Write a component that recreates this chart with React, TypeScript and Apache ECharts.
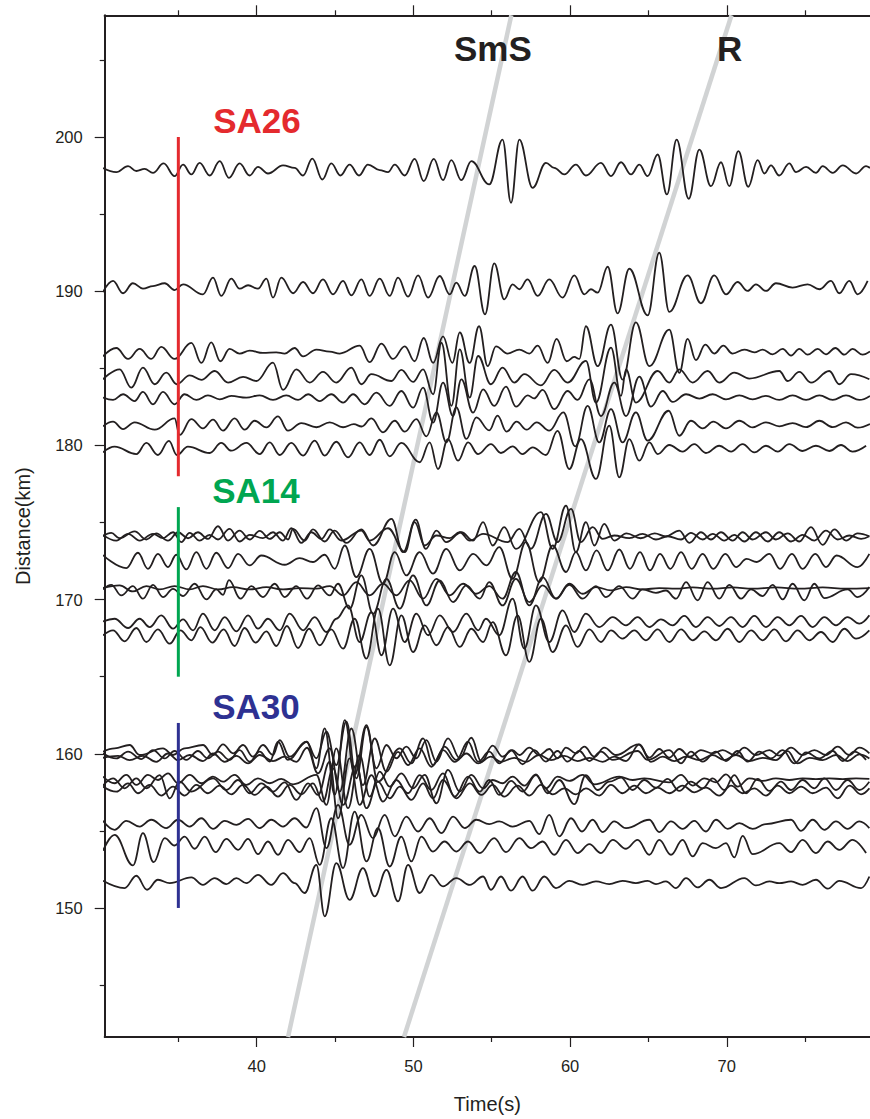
import React, { useEffect, useRef } from "react";
import * as echarts from "echarts";

const FONT = '"Liberation Sans", Arial, Helvetica, sans-serif';
const INK = "#231f20";

const X_MIN = 30.3;
const X_MAX = 79.14;
const Y_MIN = 141.63;
const Y_MAX = 207.9;
const xMajorTicks = [40, 50, 60, 70];
const xMinorTicks = [35, 45, 55, 65, 75];
const yMajorTicks = [150, 160, 170, 180, 190, 200];
const yMinorTicks = [145, 155, 165, 175, 185, 195, 205];

const stationNames = ["SA26", "SA14", "SA30"];
const stationColors = ["#e42a2e", "#00a651", "#2e3192"];
const stationSpans = [[178, 200], [165, 176], [150, 162]];
const stationMarkTime = 35;
const stationLabelAnchor = [[37.22, 201.09], [37.16, 177.05], [37.16, 163.04]];

const phaseNames = ["SmS", "R"];
const phaseLines = [
  [[42.0, 141.63], [56.25, 207.9]],
  [[49.4, 141.63], [70.3, 207.9]],
];
const phaseLabelAnchor = [[52.59, 205.76], [69.38, 205.76]];

// baseline distance (km) of every trace
const baselines = [
  197.9, 190.3, 186.0, 184.4, 183.1, 181.28, 179.66,
  174.2, 174.05, 172.54, 170.75, 170.53, 168.44, 167.79,
  160.18, 159.92, 159.7, 158.41, 158.02, 157.76, 155.5, 153.88, 151.72,
];

// each trace: [time(s), amplitude(km), time, amplitude, ...] at its peaks and troughs
const trace01 = [30.19,0.1,31.04,-0.17,31.79,0.22,32.32,-0.1,32.85,0.04,33.38,-0.22,34.06,0.39,34.76,-0.43,35.3,0.32,35.83,-0.32,36.36,0.43,37.0,-0.39,37.64,0.54,38.23,-0.54,38.91,0.39,39.55,-0.39,40.08,0.17,40.72,-0.26,41.68,0.26,42.42,0.1,42.96,-0.39,43.55,0.71,44.19,-0.65,44.76,0.39,45.34,-0.39,45.93,0.32,46.53,-0.39,47.1,0.32,47.85,-0.04,48.38,-0.17,48.81,0.32,49.45,-0.39,50.08,0.69,50.66,-0.75,51.3,0.69,51.89,-0.69,52.42,0.6,53.06,-0.69,53.7,0.54,54.84,-0.97,55.69,1.94,56.23,-2.16,56.76,1.94,57.61,-1.19,58.46,0.43,58.99,0.1,59.63,-0.32,60.37,0.32,61.01,-0.39,61.97,0.43,62.61,-0.43,63.25,0.47,63.89,-0.32,64.42,0.32,64.95,-0.43,65.59,0.97,66.18,-1.62,66.8,1.94,67.57,-1.9,68.25,1.29,68.99,-1.08,69.63,0.47,70.16,-1.08,70.74,1.19,71.37,-1.12,71.97,0.6,72.4,-0.26,72.82,0.26,73.35,-0.39,73.99,0.39,74.42,-0.17,75.06,0.17,75.69,-0.22,76.12,0.22,76.76,-0.22,77.4,0.26,78.25,-0.26,78.89,0.22,79.14,0.1];
const trace02 = [30.19,-0.35,30.83,0.37,31.47,-0.43,32.1,0.22,32.74,-0.13,33.38,0.04,34.13,0.22,34.76,-0.22,35.3,0.15,36.57,-0.5,37.21,0.58,37.74,-0.6,38.38,0.52,38.91,-0.13,39.45,0.09,40.08,-0.13,40.62,0.52,41.04,-0.71,41.57,0.58,42.32,-0.43,42.96,0.3,43.59,-0.43,44.23,0.47,44.87,-0.5,45.51,0.37,46.04,-0.56,46.68,0.47,47.21,-0.6,47.85,0.52,48.49,-0.6,49.02,0.58,49.66,-0.65,50.3,0.73,50.94,-0.71,51.68,0.69,52.32,-0.5,52.74,0.26,53.28,-0.6,53.91,1.34,54.57,-1.8,55.16,1.51,55.8,-0.82,56.33,0.15,56.76,-0.17,57.29,0.47,57.93,-0.6,58.67,0.47,59.52,-0.71,60.27,0.73,60.91,-0.5,61.33,-0.17,61.76,-0.39,62.4,1.29,63.03,-1.73,63.78,1.16,64.95,-1.86,65.69,2.2,66.33,-1.64,67.5,0.73,68.35,-1.08,69.2,0.73,69.95,-0.5,70.69,0.3,71.33,-0.28,71.86,0.15,72.5,-0.28,73.14,0.22,74.2,-0.06,75.16,0.15,75.91,-0.17,76.65,0.37,77.18,-0.43,77.82,0.37,78.35,-0.5,78.99,0.37];
const trace03 = [30.19,-0.22,31.04,0.32,31.79,-0.39,32.53,0.26,33.27,-0.39,33.91,0.39,34.76,-0.39,35.83,0.65,36.47,-0.65,37.1,0.69,37.68,-0.54,38.27,0.26,38.91,-0.04,39.55,0.15,40.4,0,41.25,0.04,41.79,-0.04,42.42,0.32,42.96,-0.22,43.81,0.22,44.66,0.09,45.3,-0.04,46.57,0.47,47.21,-0.6,47.96,0.6,48.7,-0.39,49.45,0.43,50.08,-0.54,50.66,0.97,51.26,-0.65,51.89,1.08,52.49,-0.65,52.96,1.34,53.59,-0.65,54.19,1.73,54.74,-0.86,55.27,0.43,56.01,-0.04,56.76,0.22,57.4,-0.04,57.93,0.47,58.57,-0.65,59.14,0.91,59.78,-0.54,60.27,-0.26,60.59,-0.39,61.01,1.73,61.76,-0.86,62.61,1.83,63.35,-1.73,64.2,1.98,65.06,-0.86,66.33,1.51,66.97,-1.29,67.5,0.91,68.03,-0.47,68.63,0.54,69.2,-0.04,69.78,0.47,70.37,-0.04,71.12,0.22,71.76,0.04,72.29,0.22,72.93,-0.09,73.57,0.26,74.1,-0.17,74.63,0.26,75.16,-0.11,75.8,0.26,76.33,-0.09,76.93,0.32,77.5,-0.11,78.03,0.26,78.67,-0.11,79.14,0.1];
const trace04 = [30.19,-0.11,31.25,0.54,32.0,-0.65,32.74,0.65,33.49,-0.43,34.23,0.32,34.91,-0.43,35.72,0.15,36.47,-0.15,37.32,0.43,38.17,-0.32,39.13,0.05,39.98,-0.22,41.04,0.97,41.68,-0.8,42.53,0.54,43.38,-0.32,44.23,0.37,45.08,-0.32,46.04,0.65,46.68,-0.43,47.32,0.22,48.6,-0.22,49.23,0.5,49.98,-0.28,50.62,0.54,51.26,-1.08,51.79,2.26,52.43,-1.83,52.96,1.83,53.59,-1.29,54.13,1.4,54.95,-0.43,55.69,0.65,56.44,-0.32,57.08,0.22,58.14,-0.5,58.99,0.5,59.84,-0.32,61.01,1.08,61.65,-1.62,62.61,1.94,63.25,-1.19,63.57,0.54,64.2,-1.62,65.59,0.43,66.33,-0.32,66.97,0.54,67.82,-0.32,68.78,0.43,69.52,-0.32,70.48,0.32,71.44,-0.06,73.35,0.43,73.89,-0.22,74.63,0.37,75.37,-0.32,76.54,0.43,77.18,-0.43,77.93,0.22,79.1,-0.11];
const trace05 = [30.19,0,30.83,-0.15,31.47,0.22,32.21,-0.22,32.74,0.37,33.38,-0.43,34.02,0.37,34.76,-0.43,35.4,0.22,36.15,-0.15,36.89,0.15,37.64,-0.11,38.38,0.11,39.34,0,40.19,0.15,41.04,-0.15,41.89,0.15,42.64,-0.15,43.28,0.22,44.02,-0.22,44.76,0.22,45.51,-0.32,46.15,0.22,46.89,-0.43,47.64,0.32,48.49,-0.54,49.23,0.43,49.98,-0.65,50.62,0.65,51.26,-1.62,51.89,0.97,52.53,-1.19,53.06,1.19,53.81,-0.97,54.45,0.54,55.16,-0.54,55.91,0.71,56.55,-0.58,57.3,0.15,57.7,-0.05,58.25,0.5,58.99,-0.75,59.84,0.43,60.48,-0.15,61.23,1.19,61.97,-1.19,62.82,0.97,63.57,-1.19,64.42,1.36,65.16,-0.58,65.91,0.43,66.55,-0.28,67.4,0.22,68.25,-0.06,69.1,0.22,69.95,-0.11,70.8,0.15,71.65,-0.11,72.5,0.11,73.35,-0.15,74.2,0.15,75.06,-0.15,75.91,0.15,76.76,-0.15,77.61,0.15,78.46,-0.15,79.14,0.11];
const trace06 = [30.19,-0.04,30.83,0.26,31.47,-0.22,32.21,0.22,33.49,-0.26,34.76,0.47,35.08,-0.6,35.83,0.43,36.57,-0.17,37.21,0.39,37.85,-0.32,38.59,0.47,39.23,-0.26,39.87,0.32,40.62,-0.11,41.36,0.6,42.0,-0.32,42.85,0.17,43.81,-0.1,44.66,0.22,45.51,-0.1,46.2,0.1,46.7,-0.05,47.32,0.47,48.06,-0.43,48.81,0.32,49.45,-0.39,50.19,0.43,50.83,-0.69,51.47,0.86,52.11,-1.08,52.74,1.19,53.38,-0.86,54.02,0.54,54.84,-0.3,55.37,0.65,55.95,-0.39,56.59,0.26,57.23,-0.26,57.87,0.22,58.67,-0.32,59.57,0.86,60.33,-1.34,61.12,1.29,61.86,-1.08,62.61,1.08,63.35,-1.08,64.2,0.86,64.95,-0.97,66.29,0.97,66.97,-0.65,67.71,0.32,68.46,-0.17,69.14,0.26,69.95,-0.17,70.8,0.32,71.65,-0.11,72.5,0.22,73.35,-0.04,74.2,0.17,75.06,-0.09,75.91,0.32,76.76,-0.09,77.61,0.22,78.35,-0.13,79.14,0.11];
const trace07 = [30.19,-0.11,30.93,0.26,32.32,-0.22,32.96,0.5,33.7,-0.28,34.4,0.63,34.91,-0.28,35.61,0.26,37.0,-0.15,37.74,0.5,38.38,0,39.34,0.5,40.19,-0.22,40.83,0.54,41.47,-0.28,42.21,0.5,42.96,-0.32,43.7,0.65,44.34,-0.32,45.08,0.58,45.83,-0.43,46.57,0.54,47.21,-0.28,47.85,0.71,48.49,-0.37,49.23,0.5,50.4,-0.75,51.04,0.54,51.57,-1.19,52.21,0.75,52.85,-0.65,53.49,0.54,54.13,-0.22,54.95,0.43,55.59,-0.15,56.33,0.28,56.97,-0.22,57.61,0.22,58.46,-0.28,59.2,1.29,59.95,-1.19,60.69,0.75,61.65,-1.83,62.5,1.62,63.14,-1.73,63.78,0.75,64.42,-0.65,65.06,0.54,65.59,-0.22,66.33,0.37,67.18,-0.06,67.93,0.43,68.67,-0.15,69.52,0.32,70.27,-0.06,71.01,0.43,71.76,-0.11,72.5,0.32,73.25,-0.06,73.99,0.43,74.84,-0.02,75.69,0.32,76.54,-0.02,77.29,0.37,78.03,-0.06,78.89,0.32];
const trace08 = [30.19,-0.09,30.72,0.13,31.25,-0.22,32.21,0.22,32.96,-0.3,33.59,0.09,34.34,-0.37,34.98,0.17,35.62,-0.22,36.25,0.17,36.89,-0.26,37.53,0.56,38.17,-0.37,38.91,0.28,39.55,-0.3,40.19,0.26,40.83,-0.26,41.47,0.17,42.0,-0.3,42.32,0.39,43.06,-0.37,43.59,0.35,44.34,-0.43,44.98,0.28,45.72,-0.52,46.68,0.35,47.43,-0.69,48.6,1.04,49.34,-1.12,50.15,0.99,50.79,-0.91,51.47,0.28,52.1,-0.47,53.06,0.17,53.81,-0.37,54.45,0.82,55.06,-0.69,55.8,0.5,56.54,-0.91,58.14,1.47,58.89,-0.91,59.74,1.9,60.37,-1.12,61.01,0.82,61.55,-0.69,62.18,0.71,62.82,-0.37,63.6,0.1,64.5,-0.22,65.4,0.1,66.1,-0.1,66.97,0.28,67.61,-0.52,68.35,0.17,68.99,-0.3,69.63,0.17,70.37,-0.37,71.01,0.17,71.65,-0.3,72.5,0.17,73.14,-0.3,73.89,0.1,74.63,-0.43,75.37,0.5,76.12,-0.65,76.87,0.35,77.61,-0.37,78.35,0.1,79.1,-0.09];
const trace09 = [30.19,0.15,31.04,-0.22,31.79,0.22,32.53,-0.22,33.38,0.22,34.02,-0.06,34.66,0.32,35.19,-0.32,35.72,0.28,36.36,-0.22,37.0,0.15,37.53,-0.15,38.27,0.54,38.91,-0.28,39.55,0.15,40.4,-0.06,41.04,0.32,41.68,-0.22,42.21,0.58,42.85,-0.37,43.49,0.32,44.13,-0.11,44.66,0.5,45.4,-0.22,46.68,0.43,47.21,-0.22,48.38,0.58,49.45,-0.97,50.08,0.97,50.72,-0.54,51.47,0.11,52.32,-0.06,52.96,0.32,53.6,-0.22,54.45,0.22,56.01,-0.32,56.76,0.54,57.5,-0.75,58.46,1.51,59.2,-0.32,60.06,1.83,60.69,-0.32,61.44,0.65,62.08,-0.11,62.82,0.11,63.78,-0.06,64.63,0.22,65.48,-0.15,66.23,0.06,67.08,-0.15,67.71,0.28,68.46,-0.15,69.1,0.22,69.84,-0.22,70.48,0.15,71.12,-0.28,71.86,0.32,72.61,-0.28,73.35,0.32,74.1,-0.28,74.84,0.15,75.59,-0.22,76.33,0.43,77.08,-0.15,77.82,0.11,78.57,-0.11,79.1,0.06];
const trace10 = [30.19,0.35,31.68,-0.5,32.42,0.5,33.06,-0.54,33.7,0.43,34.34,-0.43,34.87,0.37,35.51,-0.58,36.15,0.54,36.79,-0.54,37.42,0.5,38.17,-0.5,38.81,0.43,39.55,-0.32,40.3,0.32,41.79,-0.28,42.74,0.15,43.59,-0.1,44.34,0.37,44.98,-0.54,45.62,0.97,46.36,-1.08,47.21,0.75,48.06,-1.51,48.81,0.54,49.55,-0.97,50.4,0.54,51.25,-0.86,52.1,0.75,52.96,-0.65,53.81,0.43,54.66,-0.32,55.48,0.86,56.33,-1.19,57.18,1.19,58.03,-1.4,58.89,0.97,59.74,-0.75,60.37,0.54,61.01,-0.65,61.69,0.65,62.4,-0.65,63.14,0.71,63.82,-0.54,64.46,0.54,65.1,-0.65,65.74,0.43,66.4,-0.54,67.08,0.54,67.76,-0.54,68.46,0.43,69.14,-0.54,69.91,0.43,70.59,-0.43,71.27,0.1,71.91,-0.1,72.72,0.43,73.4,-0.54,74.16,0.43,74.84,-0.54,75.65,0.43,76.33,-0.43,77.01,0.32,78.35,-0.43,79.1,0.43];
const trace11 = [30.19,0,31.25,0.17,32.1,-0.22,32.96,0.13,33.81,-0.09,34.76,0.13,35.72,-0.09,36.57,0.13,37.53,-0.09,38.49,0.06,39.55,-0.09,40.62,0.06,41.68,-0.09,42.74,0,43.81,-0.04,44.66,0.13,45.51,-0.47,46.36,0.39,47.21,-0.47,48.06,0.28,48.91,-0.47,49.76,0.5,50.62,-0.69,51.47,0.6,52.32,-0.47,53.17,0.28,54.02,-0.37,54.84,0.13,55.69,-0.69,56.54,1.04,57.4,-1.12,58.25,0.71,59.1,-0.69,59.95,0.28,60.8,-0.37,61.65,0.06,62.61,-0.15,63.57,0.06,64.63,-0.09,65.69,0,66.76,-0.04,67.82,0.04,69.1,-0.04,70.37,0.04,71.65,-0.04,73.14,0.04,74.63,-0.04,76.12,0.04,77.61,-0.04,79.1,0];
const trace12 = [30.19,0.13,30.72,0.43,31.36,-0.26,32.1,0.35,32.74,-0.47,33.38,0.43,34.02,-0.37,34.66,0.17,35.3,-0.3,36.04,0.5,36.79,-0.52,37.42,0.13,37.85,-0.22,38.23,0.73,38.96,-0.47,39.66,0.35,40.4,-0.37,41.15,0.5,41.79,-0.37,42.53,0.35,43.21,-0.47,43.91,0.39,44.66,-0.26,45.19,0.5,45.93,-1.12,46.68,1.04,47.43,-1.45,48.28,0.82,49.13,-1.12,49.98,1.04,50.83,-0.91,51.68,0.71,52.53,-0.69,53.38,0.39,54.23,-0.47,54.84,0.6,55.69,-0.91,56.54,0.82,57.4,-0.69,58.25,0.39,59.1,-0.47,59.95,0.43,60.8,-0.47,61.65,0.35,62.29,-0.37,63.14,0.35,63.99,-0.47,64.63,0.13,65.48,-0.09,66.12,0.06,66.76,-0.47,67.4,0.6,68.14,-0.58,68.78,0.6,69.52,-0.47,70.16,0.43,70.91,-0.47,71.55,0.13,72.29,-0.3,72.93,0.43,73.57,-0.52,74.2,0.5,74.95,-0.58,75.59,0.5,76.23,-0.43,77.71,0.13,78.35,-0.37,79.1,0.28];
const trace13 = [30.19,0.15,30.93,0.32,31.79,-0.28,32.53,0.32,33.17,-0.22,33.91,0.54,34.66,-0.32,35.3,0.28,35.94,-0.43,36.57,0.65,37.32,-0.43,37.96,0.43,38.7,-0.5,39.45,0.54,40.08,-0.32,40.72,0.32,41.47,-0.43,42.1,0.65,42.96,-0.43,43.7,0.43,44.45,-0.54,45.08,0.32,45.83,1.19,46.57,-1.19,47.32,0.75,47.96,-2.05,48.7,0.97,49.45,-1.19,50.19,0.65,50.94,-0.75,51.68,0.54,52.53,-0.54,53.38,0.65,54.13,-0.43,54.63,0.32,55.48,-0.75,56.33,1.62,57.08,-1.62,57.82,1.19,58.67,-1.19,59.52,0.86,60.27,-0.54,61.01,0.65,61.86,-0.22,62.72,0.43,63.57,-0.11,64.31,0.43,65.06,-0.22,65.8,0.28,66.55,-0.11,67.29,0.5,68.03,-0.22,68.78,0.43,69.52,-0.15,70.27,0.43,71.01,-0.22,71.76,0.5,72.5,-0.22,73.25,0.43,73.99,-0.11,74.74,0.5,75.48,-0.22,76.23,0.43,76.97,-0.11,77.71,0.43,78.46,0,79.1,0.54];
const trace14 = [30.19,-0.11,30.83,0.22,31.57,-0.5,32.32,0.37,32.96,-0.54,33.7,0.28,34.45,-0.65,35.13,0.22,35.83,-0.43,36.4,0.43,37.17,-0.58,37.89,0.28,38.59,-0.8,39.23,0.37,39.93,-0.58,40.62,0.15,41.25,-0.8,41.93,0.5,42.64,-0.93,43.34,0.32,44.02,-0.75,44.76,0.28,45.51,-0.97,46.25,0.97,47.0,-1.62,47.74,1.62,48.49,-2.05,49.23,1.19,49.98,-1.19,50.72,0.54,51.47,-0.75,52.21,0.43,52.96,-0.86,53.7,0.32,54.45,-0.54,55.06,0.75,55.91,-1.4,56.65,1.19,57.4,-1.83,58.14,0.97,58.89,-1.19,59.74,0.54,60.48,-0.86,61.23,0.28,61.97,-0.54,62.61,0.22,63.35,-0.32,64.1,0.22,64.84,-0.43,65.59,0.28,66.33,-0.54,67.08,0.28,67.82,-0.43,68.57,0.15,69.31,-0.43,70.06,0.32,70.8,-0.54,71.55,0.22,72.29,-0.43,73.04,0.28,73.78,-0.5,74.52,0.22,75.27,-0.43,76.01,0.11,76.76,-0.54,77.5,0.32,78.25,-0.32,79.1,0.22];
const trace15 = [30.19,-0.04,30.93,0.17,31.89,0.39,32.53,-0.26,34.02,0.17,34.66,-0.26,35.4,0.17,36.57,0.39,37.21,-0.26,37.85,0.43,38.49,-0.15,39.13,0.39,39.76,-0.37,40.4,0.39,41.04,-0.26,41.47,0.71,42.1,-0.37,43.17,0.6,43.81,-0.47,44.45,1.25,45.08,-0.91,45.72,1.9,46.36,-1.77,47.0,1.57,47.64,-1.12,48.28,0.39,48.91,-0.47,49.55,0.28,50.19,-0.47,50.83,0.71,51.47,-0.69,52.21,0.82,52.96,-0.47,53.7,0.86,54.34,-0.69,55.06,0.35,55.69,-0.37,56.33,0.06,56.76,-0.26,57.4,0.22,58.03,-0.26,58.67,0.13,59.2,-0.47,59.74,0.22,60.37,-0.15,60.91,0.28,61.55,-0.37,62.18,0.22,62.93,-0.26,64.37,0.43,65.06,-0.43,65.69,0.13,66.33,-0.43,66.97,0.13,67.65,-0.37,68.35,0.06,69.1,-0.15,69.74,0.06,70.48,-0.26,71.12,0.22,71.86,-0.26,72.72,0.06,73.35,-0.3,74.1,0.22,74.84,-0.26,75.59,0.06,76.33,-0.26,77.08,0.28,77.82,-0.26,78.46,0.22,79.1,-0.15];
const trace16 = [30.19,0.11,31.04,-0.22,31.79,0.22,32.64,-0.26,33.38,0.32,34.13,-0.22,34.76,0.26,35.51,-0.32,36.25,0.26,36.89,-0.22,37.53,0.22,38.27,-0.32,38.91,0.32,39.55,-0.43,40.19,0.22,40.83,-0.43,41.36,0.86,41.99,-0.32,43.21,0.86,43.81,-0.86,44.34,1.73,44.98,-2.59,45.62,2.26,46.25,-1.29,47.0,1.94,47.74,-1.73,49.13,0.43,49.87,-0.54,50.62,1.08,51.25,-0.65,51.99,0.54,52.74,-0.32,53.49,0.86,54.13,-0.43,54.84,0.22,55.48,-0.54,56.23,0.32,56.97,-0.6,57.72,0.32,58.46,-0.43,59.2,0.26,59.84,-0.43,60.59,0.26,61.23,-0.39,61.97,0.22,62.72,-0.32,64.31,0.26,64.95,-0.32,66.33,0.32,67.08,-0.54,67.71,0.22,68.46,-0.43,69.31,0.22,69.95,-0.39,70.69,0.26,71.33,-0.43,72.08,0.22,72.82,-0.22,73.57,0.32,74.31,-0.54,75.06,0.17,75.91,-0.22,76.76,0.26,77.4,-0.39,78.14,0.22,78.89,-0.32];
const trace17 = [30.19,0.04,31.15,0.17,31.89,-0.11,32.74,0.17,33.59,-0.22,34.34,0.32,34.98,-0.11,35.72,0.22,36.57,-0.17,37.21,0.32,37.96,-0.22,38.7,0.17,39.45,-0.32,40.19,0.22,41.04,-0.17,41.79,0.11,42.53,-0.22,43.21,0.69,43.91,-0.97,44.66,0.65,45.3,-2.16,46.04,1.94,46.78,-1.73,47.53,1.29,48.28,-0.86,49.02,0.43,49.66,-0.43,50.4,0.65,51.15,-0.54,51.89,0.54,52.64,-0.22,53.38,0.32,54.13,-0.32,54.95,0.11,55.59,-0.22,56.44,0.04,57.18,-0.22,58.03,0.22,58.78,-0.11,59.63,0.17,60.48,-0.17,61.23,0.04,62.08,-0.22,62.82,0.11,63.57,-0.17,64.42,0.91,65.16,-0.22,65.91,0.11,66.65,-0.17,67.4,0.11,68.25,-0.11,69.1,0.22,69.84,-0.11,70.59,0.22,71.44,-0.17,72.29,0.04,73.14,-0.11,73.89,0.47,74.52,-0.32,75.27,0.04,76.12,-0.11,76.97,0.22,77.71,-0.17,78.46,0.26,79.1,0];
const trace18 = [30.19,0.11,30.93,-0.32,31.68,0.22,32.32,-0.43,33.06,0.22,33.7,-0.11,34.34,0.32,34.98,-0.32,35.72,0.22,36.47,-0.32,37.21,0.11,37.85,-0.22,38.59,0.22,39.34,-0.43,40.08,0,40.83,-0.32,41.57,-0.04,42.32,-0.39,43.81,0.22,44.45,-1.73,45.08,1.94,45.83,-1.94,46.57,1.51,47.21,-1.19,47.85,0.43,48.49,-0.54,49.23,0.32,49.98,-0.65,50.72,0.22,51.47,-1.62,52.21,0.54,52.96,-0.86,53.7,0.22,54.45,-0.65,55.06,-0.11,55.69,-0.32,56.33,0.11,57.08,-0.47,57.82,0.26,58.46,-0.65,59.2,0.11,59.95,-0.17,60.8,0.22,61.55,-0.39,63.14,0.11,63.99,-0.11,64.74,0,66.33,-0.26,67.08,0.22,67.82,-0.47,68.57,0,69.31,-0.26,69.95,0.26,70.69,-0.54,71.44,0,72.29,-0.17,73.14,0,73.99,-0.11,74.84,0,75.69,-0.06,76.54,0,77.4,-0.06,78.25,0,79.1,-0.04];
const trace19 = [30.19,-0.09,30.83,0.39,31.57,-0.26,32.32,0.39,32.96,-0.26,33.81,0.6,34.45,-0.91,35.08,0.17,35.83,-0.47,37.21,0.39,38.06,-0.37,38.81,0.28,39.55,-0.58,40.3,0.06,41.04,-0.47,41.79,0.13,42.53,-1.01,43.28,0.06,43.91,-0.69,44.66,1.47,45.19,-2.2,45.93,1.68,46.57,-1.34,47.32,0.6,48.06,-1.12,48.91,0.28,49.66,-0.58,50.4,0.6,51.15,-0.37,51.89,0.71,52.64,-0.8,53.49,0.5,54.23,-0.47,54.84,0.28,55.48,-0.69,56.23,0.22,56.97,-0.47,57.82,0.6,58.57,-0.58,59.31,0.28,60.27,-1.29,61.01,0.6,61.76,-0.37,62.5,0.17,63.25,0.43,63.99,-0.37,64.74,0.28,65.48,-0.22,66.23,0.35,66.97,-0.43,67.71,0.17,68.46,-0.26,69.1,0.39,69.84,-0.37,70.48,0.6,71.23,-0.58,71.97,0.35,72.72,-0.43,73.46,0.17,74.1,-0.37,74.84,0.28,75.59,-0.26,76.23,0.39,76.97,-0.37,77.71,0.28,78.46,-0.37,79.1,0.17];
const trace20 = [30.19,0.11,31.04,-0.22,31.79,0.32,32.42,-0.32,33.17,0.22,33.91,-0.47,34.66,0.11,35.4,-0.47,36.15,0.22,36.89,-0.32,37.64,0.17,38.38,-0.39,39.13,0.22,39.87,-0.43,40.62,0.11,41.36,-0.54,42.1,0.22,42.85,-0.39,43.59,0.32,44.23,-0.86,44.87,1.29,45.51,-1.08,46.36,1.51,47.0,-1.29,47.74,0.43,48.49,-0.65,49.13,0.11,49.87,-0.75,50.62,0.32,51.25,-0.65,51.89,0.54,52.74,-0.65,53.6,0.32,54.34,-0.43,55.06,0.22,55.8,-0.54,56.65,0.17,57.4,-0.47,58.14,0.22,58.89,-0.39,59.63,0,60.37,-0.39,61.01,0,61.86,-0.47,62.61,0.22,63.35,-0.32,64.1,0.17,64.84,-0.32,65.59,0.04,66.33,-0.32,67.18,0.17,67.93,-0.26,68.67,0.04,69.52,-0.47,70.27,0.17,71.01,-0.32,71.76,0,72.5,-0.47,73.25,0.17,73.99,-0.32,74.74,0.11,75.48,-0.32,76.33,0.04,77.08,-0.65,77.82,0.17,78.57,-0.39,79.1,0];
const trace21 = [30.19,0.15,30.93,-0.43,31.68,0.15,32.53,-0.22,33.27,0.22,34.23,-0.32,34.98,0.22,35.72,-0.22,36.47,0.32,37.21,-0.37,37.96,0.15,38.7,-0.11,39.45,0.28,40.19,-0.32,40.93,0.22,41.68,-0.22,42.42,0.32,43.17,-0.28,43.81,0.97,44.45,-1.62,45.19,1.19,45.93,-1.4,46.68,0.54,47.42,-0.97,48.17,0.54,48.81,-0.86,49.55,0.43,50.3,-0.54,51.04,0.32,51.79,-0.65,52.53,0.43,53.28,-0.32,54.02,0.22,54.84,-0.06,55.48,0.11,56.33,-0.22,57.4,0.15,58.03,-0.71,58.67,0.54,59.31,-0.86,60.06,0.32,60.76,-0.54,61.44,0.22,62.08,-0.58,62.82,0.11,63.57,-0.32,65.06,0.22,65.69,-0.58,66.44,0.11,67.18,-0.37,67.93,0.15,68.67,-0.54,69.31,0.22,70.06,-0.37,70.8,0,71.65,-0.37,72.5,-0.06,74.1,0.22,74.74,-0.5,75.48,0.22,76.23,-0.43,76.97,0.11,77.71,-0.37,78.46,0.11,79.1,-0.32];
const trace22 = [30.19,-0.17,30.93,0.86,32.1,-1.12,32.74,0.97,33.42,-0.91,34.13,0.65,34.76,0.17,35.4,0.75,36.04,-0.04,36.68,0.75,37.38,-0.26,38.06,0.6,38.81,-0.11,39.45,0.6,40.08,-0.39,40.72,0.43,41.36,-0.43,42.0,0.54,42.74,-0.26,43.38,0.65,44.02,-1.08,44.76,1.94,45.51,-1.29,46.25,2.37,47.0,-0.86,47.74,1.29,48.49,-1.19,49.23,0.75,49.87,-0.86,50.51,0.75,51.25,-0.22,51.99,0.43,52.74,-0.22,53.49,0.43,54.23,-0.32,55.16,0.65,55.91,-0.26,56.76,0.65,57.5,0,58.25,0.43,58.99,-0.43,59.74,0.54,60.48,-0.32,61.23,0.26,61.97,-0.32,62.72,0.54,63.57,-0.04,64.31,0.54,65.06,-0.43,65.69,0.54,66.44,-0.43,67.18,0.54,67.82,-0.54,68.46,0.32,69.31,0,69.95,0.32,70.48,-0.6,71.01,0.8,71.65,-0.39,73.35,0.32,74.1,-0.26,74.84,0.54,75.69,-0.32,76.44,0.43,77.18,-0.11,78.03,0.54,78.89,-0.32];
const trace23 = [30.19,0.04,31.57,-0.43,32.32,0.37,33.0,-0.54,33.7,0.11,34.45,-0.11,35.83,0.26,36.57,-0.22,37.32,0.22,38.06,-0.17,38.7,0.22,39.34,-0.11,40.08,0.43,40.93,-0.22,41.68,0.54,42.42,-0.11,43.06,-0.75,43.81,1.08,44.34,-2.26,45.08,1.19,45.93,-1.19,46.78,0.86,47.53,-0.97,48.28,0.75,49.02,-1.29,49.66,1.08,50.4,-0.75,51.15,0.43,51.89,-0.32,52.74,0.22,53.6,-0.22,54.45,0.32,54.95,-0.54,55.59,0.32,56.23,-0.6,56.97,0.32,57.61,-0.6,58.35,0.32,59.1,-0.43,59.95,0.04,60.8,-0.22,61.65,0,62.5,-0.17,63.35,0.04,64.2,-0.11,64.95,0.04,65.48,-0.17,66.12,0,66.76,-0.43,67.4,0.22,68.14,-0.39,68.89,0.11,69.63,-0.43,71.12,0.22,71.86,-0.26,72.72,0,73.35,-0.11,74.1,0,74.84,-0.22,75.69,0.11,76.44,-0.47,77.18,0.04,78.57,-0.43,79.1,0.32];

const traces = [
  trace01, trace02, trace03, trace04, trace05, trace06, trace07,
  trace08, trace09, trace10, trace11, trace12, trace13, trace14,
  trace15, trace16, trace17, trace18, trace19, trace20, trace21, trace22, trace23,
];

function toPoints(flat: number[], base: number): number[][] {
  const pts: number[][] = [];
  for (let k = 0; k + 1 < flat.length; k += 2) pts.push([flat[k], base + flat[k + 1]]);
  return pts;
}

function axisBase(min: number, max: number) {
  return {
    type: "value" as const,
    min,
    max,
    splitLine: { show: false },
    axisLine: { show: false },
    axisLabel: { show: false },
  };
}

export default function App() {
  const ref = useRef<HTMLDivElement>(null);

  useEffect(() => {
    if (!ref.current) return;
    const chart = echarts.init(ref.current, undefined, { renderer: "svg" });

    const traceSeries = traces.map((flat, i) => ({
      type: "line",
      name: "trace" + (i + 1),
      data: toPoints(flat, baselines[i]),
      xAxisIndex: 0,
      yAxisIndex: 0,
      showSymbol: false,
      symbol: "none",
      smooth: 0.4,
      smoothMonotone: "x",
      silent: true,
      z: 3,
      lineStyle: { color: INK, width: 1.8 },
    }));

    const phaseSeries = phaseLines.map((pts, i) => ({
      type: "line",
      name: phaseNames[i],
      data: pts,
      xAxisIndex: 0,
      yAxisIndex: 0,
      showSymbol: false,
      symbol: "none",
      silent: true,
      z: 2,
      lineStyle: { color: "#d1d3d4", width: 4.5 },
    }));

    const stationSeries = stationSpans.map((span, i) => ({
      type: "line",
      name: stationNames[i] + " bar",
      data: [[stationMarkTime, span[0]], [stationMarkTime, span[1]]],
      xAxisIndex: 0,
      yAxisIndex: 0,
      showSymbol: false,
      symbol: "none",
      silent: true,
      z: 4,
      lineStyle: { color: stationColors[i], width: 3 },
    }));

    const xMajor = {
      ...axisBase(X_MIN, X_MAX),
      position: "bottom",
      axisLine: { show: true, onZero: false, lineStyle: { color: INK, width: 2 } },
      axisTick: { show: true, inside: false, length: 10, customValues: xMajorTicks, lineStyle: { color: INK, width: 1.2 } },
      axisLabel: { show: true, customValues: xMajorTicks, margin: 20, fontSize: 16.5, color: INK, fontFamily: FONT },
      name: "Time(s)",
      nameLocation: "middle",
      nameGap: 57,
      nameTextStyle: { fontSize: 20, color: INK, fontFamily: FONT },
    };
    const xMinor = {
      ...axisBase(X_MIN, X_MAX),
      position: "bottom",
      axisTick: { show: true, inside: false, length: 5, customValues: xMinorTicks, lineStyle: { color: INK, width: 1.2 } },
    };
    const xTopMajor = {
      ...axisBase(X_MIN, X_MAX),
      position: "top",
      axisLine: { show: true, onZero: false, lineStyle: { color: INK, width: 2 } },
      axisTick: { show: true, inside: false, length: 10, customValues: xMajorTicks, lineStyle: { color: INK, width: 1.2 } },
    };
    const xTopMinor = {
      ...axisBase(X_MIN, X_MAX),
      position: "top",
      axisTick: { show: true, inside: false, length: 5, customValues: xMinorTicks, lineStyle: { color: INK, width: 1.2 } },
    };
    const yMajor = {
      ...axisBase(Y_MIN, Y_MAX),
      position: "left",
      axisLine: { show: true, onZero: false, lineStyle: { color: INK, width: 2 } },
      axisTick: { show: true, inside: false, length: 10, customValues: yMajorTicks, lineStyle: { color: INK, width: 1.2 } },
      axisLabel: { show: true, customValues: yMajorTicks, margin: 22, fontSize: 16.5, color: INK, fontFamily: FONT },
      name: "Distance(km)",
      nameLocation: "middle",
      nameGap: 72,
      nameTextStyle: { fontSize: 20, color: INK, fontFamily: FONT },
    };
    const yMinor = {
      ...axisBase(Y_MIN, Y_MAX),
      position: "left",
      axisTick: { show: true, inside: false, length: 5, customValues: yMinorTicks, lineStyle: { color: INK, width: 1.2 } },
    };

    chart.setOption({
      animation: false,
      backgroundColor: "#ffffff",
      grid: { left: 104.7, top: 15.3, right: 0, bottom: 1119 - 1039.3, containLabel: false },
      xAxis: [xMajor, xMinor, xTopMajor, xTopMinor],
      yAxis: [yMajor, yMinor],
      series: [...phaseSeries, ...traceSeries, ...stationSeries],
    } as any);

    const bold = `bold 35px ${FONT}`;
    const graphics: any[] = [];
    stationNames.forEach((name, i) => {
      const p = chart.convertToPixel({ xAxisIndex: 0, yAxisIndex: 0 } as any, stationLabelAnchor[i]) as number[];
      graphics.push({
        type: "text",
        x: p[0],
        y: p[1],
        z: 10,
        style: { text: name, fill: stationColors[i], font: bold, align: "left", verticalAlign: "middle" },
      });
    });
    phaseNames.forEach((name, i) => {
      const p = chart.convertToPixel({ xAxisIndex: 0, yAxisIndex: 0 } as any, phaseLabelAnchor[i]) as number[];
      graphics.push({
        type: "text",
        x: p[0],
        y: p[1],
        z: 10,
        style: { text: name, fill: INK, font: bold, align: "left", verticalAlign: "middle" },
      });
    });
    chart.setOption({ graphic: graphics } as any);

    return () => chart.dispose();
  }, []);

  return (
    <div
      ref={ref}
      style={{ position: "absolute", left: 0, top: 0, width: 870, height: 1119, background: "#fff" }}
    />
  );
}
